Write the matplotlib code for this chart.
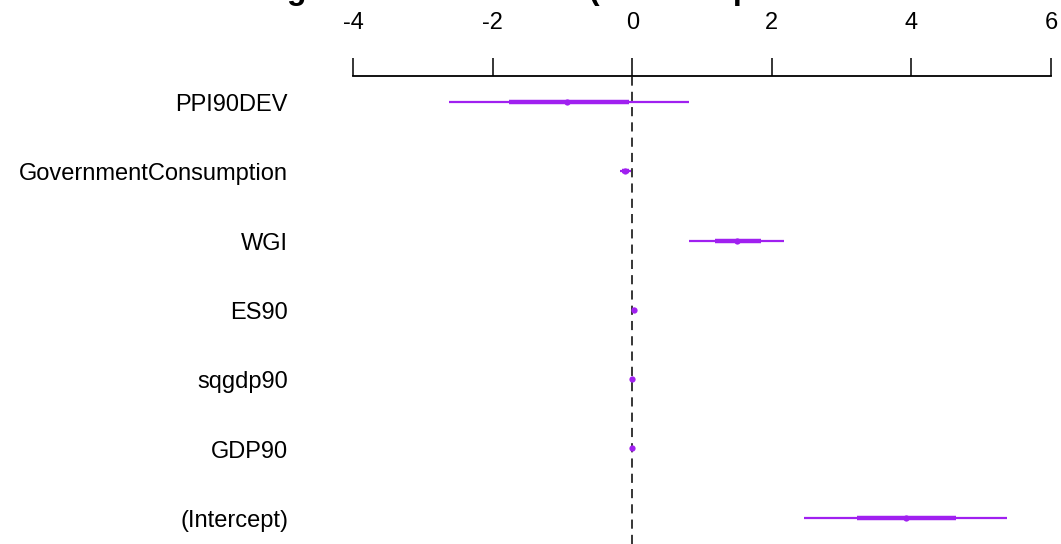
import matplotlib
matplotlib.use("Agg")
import matplotlib.pyplot as plt

# ---- data ----
variables = ["PPI90DEV", "GovernmentConsumption", "WGI", "ES90", "sqgdp90", "GDP90", "(Intercept)"]
estimates = [-0.93, -0.10, 1.50, 0.02, 0.00, 0.00, 3.92]
inner_lo = [-1.76, -0.15, 1.19, 0.00, -0.01, -0.01, 3.22]
inner_hi = [-0.04, -0.05, 1.85, 0.04, 0.01, 0.01, 4.64]
outer_lo = [-2.62, -0.18, 0.82, -0.01, -0.02, -0.02, 2.46]
outer_hi = [0.82, -0.02, 2.18, 0.05, 0.02, 0.02, 5.37]
xticks = [-4, -2, 0, 2, 4, 6]
title = "Regression Estimates (Full Sample Estimation Results for All Countries)"

W, H = 1061, 544
fig = plt.figure(figsize=(W / 100, H / 100), dpi=100)
plt.rcParams['font.family'] = ['Liberation Sans', 'DejaVu Sans']

left_px, right_px, top_px, bottom_px = 353, 1051, 76, 544
ax = fig.add_axes([left_px / W, 1 - bottom_px / H, (right_px - left_px) / W, (bottom_px - top_px) / H])

row_px = 69.3
first_px = 102
ax.set_xlim(xticks[0], xticks[-1])
ax.set_ylim((bottom_px - first_px) / row_px, -(first_px - top_px) / row_px)

purple = "#A020F0"
ypos = list(range(len(variables)))
ax.axvline(0, color="black", lw=1.1, dashes=(6, 4), zorder=1)
ax.hlines(ypos, outer_lo, outer_hi, color=purple, lw=1.6, zorder=2)
ax.hlines(ypos, inner_lo, inner_hi, color=purple, lw=3.2, zorder=3)
ax.plot(estimates, ypos, "o", color=purple, ms=4.5, zorder=4, markeredgewidth=0)

for s in ["left", "right", "bottom"]:
    ax.spines[s].set_visible(False)
ax.spines["top"].set_linewidth(1.3)
ax.spines["top"].set_bounds(xticks[0], xticks[-1])
ax.xaxis.set_ticks_position("top")
ax.set_xticks(xticks)
ax.set_xticklabels([str(t) for t in xticks])
ax.tick_params(axis="x", direction="out", length=13, width=1.1, pad=17, labelsize=17)
ax.set_yticks([])

for y, name in zip(ypos, variables):
    fig.text(288 / W, 1 - (first_px + 3 + y * row_px) / H, name, ha="right", va="center", fontsize=17)

fig.text(246 / W, 1.0 + 1.0 / H, title, ha="left", va="baseline", fontsize=23, fontweight="bold")

fig.savefig("out.png", dpi=100)
